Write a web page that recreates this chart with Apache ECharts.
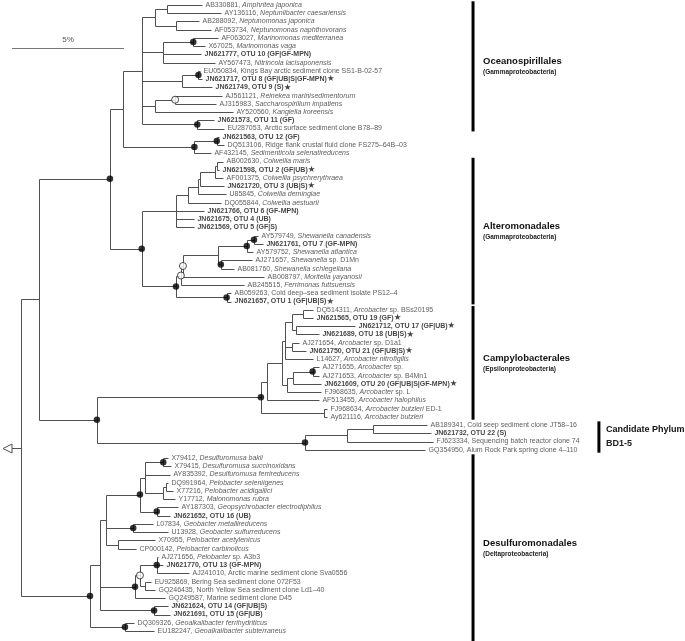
<!DOCTYPE html>
<html><head><meta charset="utf-8">
<script src="https://cdn.jsdelivr.net/npm/echarts/dist/echarts.min.js"></script>
<style>html,body{margin:0;padding:0;background:#fff}#c{width:685px;height:641px}</style>
</head><body><div id="c"></div>
<script>
// ---------------- DATA ----------------
// Leaf labels, top to bottom (*...* = italic)
const leafNames = [
"AB330881, *Amphritea japonica*","AY136116, *Neptuniibacter caesariensis*","AB288092, *Neptunomonas japonica*",
"AF053734, *Neptunomonas naphthovorans*","AF063027, *Marinomonas mediterranea*","X67025, *Marinomonas vaga*",
"JN621777, OTU 10 (GF|GF-MPN)","AY567473, *Nitrincola lacisaponensis*","EU050834, Kings Bay arctic sediment clone SS1-B-02-57",
"JN621717, OTU 8 (GF|UB|S|GF-MPN)","JN621749, OTU 9 (S)","AJ561121, *Reinekea marinisedimentorum*",
"AJ315983, *Saccharospirillum impatiens*","AY520560, *Kangiella koreensis*","JN621573, OTU 11 (GF)",
"EU287053, Arctic surface sediment clone B78\u201389","JN621563, OTU 12 (GF)","DQ513106, Ridge flank crustal fluid clone FS275\u201364B\u201303",
"AF432145, *Sedimenticola selenatireducens*","AB002630, *Colwellia maris*","JN621598, OTU 2 (GF|UB)",
"AF001375, *Colwellia psychrerythraea*","JN621720, OTU 3 (UB|S)","U85845, *Colwellia demingiae*",
"DQ055844, *Colwellia aestuarii*","JN621766, OTU 6 (GF-MPN)","JN621675, OTU 4 (UB)",
"JN621569, OTU 5 (GF|S)","AY579749, *Shewanella canadensis*","JN621761, OTU 7 (GF-MPN)",
"AY579752, *Shewanella atlantica*","AJ271657, *Shewanella* sp. D1Mn","AB081760, *Shewanella schlegeliana*",
"AB008797, *Moritella yayanosii*","AB245515, *Ferrimonas futtsuensis*","AB059263, Cold deep\u2013sea sediment isolate PS12\u20134",
"JN621657, OTU 1 (GF|UB|S)","DQ514311, *Arcobacter* sp. BSs20195","JN621565, OTU 19 (GF)",
"JN621712, OTU 17 (GF|UB)","JN621689, OTU 18 (UB|S)","AJ271654, *Arcobacter* sp. D1a1",
"JN621750, OTU 21 (GF|UB|S)","L14627, *Arcobacter nitrofigilis*","AJ271655, *Arcobacter* sp.",
"AJ271653, *Arcobacter* sp. B4Mn1","JN621609, OTU 20 (GF|UB|S|GF-MPN)","FJ968635, *Arcobacter* sp. L",
"AF513455, *Arcobacter halophilus*","FJ968634, *Arcobacter butzleri* ED-1","Ay621116, *Arcobacter butzleri*",
"AB189341, Cold seep sediment clone JT58\u201316","JN621732, OTU 22 (S)","FJ623334, Sequencing batch reactor clone 74",
"GQ354950, Alum Rock Park spring clone 4\u2013110","X79412, *Desulfuromusa bakii*","X79415, *Desulfuromusa succinoxidans*",
"AY835392, *Desulfuromusa ferrireducens*","DQ991964, *Pelobacter seleniigenes*","X77216, *Pelobacter acidigallici*",
"Y17712, *Malonomonas rubra*","AY187303, *Geopsychrobacter electrodiphilus*","JN621652, OTU 16 (UB)",
"L07834, *Geobacter metallireducens*","U13928, *Geobacter sulfurreducens*","X70955, *Pelobacter acetylenicus*",
"CP000142, *Pelobacter carbinolicus*","AJ271656, *Pelobacter* sp. A3b3","JN621770, OTU 13 (GF-MPN)",
"AJ241010, Arctic marine sediment clone Sva0556","EU925869, Bering Sea sediment clone 072F53","GQ246435, North Yellow Sea sediment clone Ld1\u201340",
"GQ249587, Marine sediment clone D45","JN621624, OTU 14 (GF|UB|S)","JN621691, OTU 15 (GF|UB)",
"DQ309326, *Geoalkalibacter ferrihydriticus*","EU182247, *Geoalkalibacter subterraneus*"
];
// distance of each leaf from the root (% sequence divergence)
const leafDepth = [
8.08,8.93,7.95,8.48,8.79,8.21,8.04,8.66,7.99,8.08,8.53,8.97,8.71,9.46,8.62,9.06,8.84,9.06,8.48,
9.02,8.84,9.02,9.06,9.15,8.93,8.17,7.72,7.72,10.58,10.80,10.36,10.31,9.51,10.85,9.96,9.38,9.38,
13.04,13.04,14.91,13.30,12.41,12.72,13.04,13.30,13.30,13.39,13.39,13.30,13.66,13.66,
18.13,18.30,18.39,18.04,
6.56,6.70,6.65,6.56,6.79,6.88,7.01,6.65,5.89,6.56,5.98,5.13,6.12,6.34,7.50,5.80,5.98,6.43,6.56,6.65,5.04,5.94
];
const starredLeaves = [9,10,20,22,36,38,39,40,42,46];

// internal nodes: id, distance from root (%), children (number = leaf index, string = node id)
const nodeIds = ["R","A","A1","O","N8","N3","N1","N2","N5","N4","N7","N6","N10","N9","Q1","P2","P1",
"ALT","C5","C4","C3","C2","C1","C1a","S7","S6","S5","S3","S2","S1","S4","S8",
"A2","K11","K10","K9","K5","K3","K1","K2","K4","K8","K7","K6","K12","BD","BDb","BDa",
"B","D11","D10","D7","D5","D1","D4","D3","D6","D8","D9","D12","D14","D15","D16","D13","D17"];
const nodeDepth = [0,0.80,3.97,4.55,5.39,5.98,6.50,6.92,6.34,7.69,7.17,7.92,5.98,6.88,7.87,7.74,8.74,
5.39,6.92,7.46,7.90,7.99,8.66,8.75,6.92,7.14,7.23,8.81,10.08,10.40,8.92,9.18,
3.39,10.71,10.97,11.64,11.79,12.08,12.60,12.28,12.08,11.86,12.14,13.02,13.53,12.68,14.54,15.71,
3.08,3.53,3.79,5.31,5.54,6.35,6.35,6.47,6.06,5.01,4.34,5.09,5.31,6.06,5.54,5.94,4.64];
const nodeChildren = [["A","B"],["A1","A2"],["O","ALT"],["N8","P2"],["N3","N5","N7","N10","Q1"],["N1","N2"],[0,1],[2,3],
["N4",6,7],[4,5],["N6",10],[8,9],["N9",13],[11,12],[14,15],["P1",18],[16,17],
["C5","S7"],["C4",25,26,27],["C3",24],["C2",23],["C1",22],["C1a",21],[19,20],["S6","S8"],["S5",34],["S3",33],["S2","S4"],["S1",30],[28,29],[31,32],[35,36],
["K11","BD"],["K10","K12"],["K9",48],["K5","K8"],["K3","K4",43],["K1","K2"],[37,38],[39,40],[41,42],["K7",47],["K6",46],[44,45],[49,50],["BDb",54],["BDa",53],[51,52],
["D11","D17"],["D10","D12","D13"],["D7","D8","D9"],["D5","D6"],["D1",57,"D4"],[55,56],["D3",60],[58,59],[61,62],[63,64],[65,66],["D14",72],["D15","D16"],[67,68,69],[70,71],[73,74],[75,76]];
const filledNodes = ["N4","N6","Q1","P1","P2","ALT","A1","S1","S2","S4","S8","S7","K6","K11","BD","A2","B","D1","D6","D7","D8","D15","D12","D13","D17"];
const openNodes = ["N9","S5","S6","D14"];

const groupNames = ["Oceanospirillales","Alteromonadales","Campylobacterales","Candidate Phylum","Desulfuromonadales"];
const groupSubs = ["(Gammaproteobacteria)","(Gammaproteobacteria)","(Epsilonproteobacteria)","BD1-5","(Deltaproteobacteria)"];
const groupFirst = [0,19,37,51,55];
const groupLast = [15,36,50,54,76];
const scaleBarPercent = 5;

// ---------------- LAYOUT (computed) ----------------
const nodeIndex = {}; nodeIds.forEach((id,i)=>nodeIndex[id]=i);
const depthOf = r => typeof r === 'number' ? leafDepth[r] : nodeDepth[nodeIndex[r]];
const yCache = {};
function yOf(r){
  if (typeof r === 'number') return r;
  if (yCache[r] !== undefined) return yCache[r];
  const ch = nodeChildren[nodeIndex[r]];
  return (yCache[r] = (yOf(ch[0]) + yOf(ch[ch.length-1])) / 2);
}
const segments = [];
nodeIds.forEach((id,i)=>{
  const d = nodeDepth[i], ch = nodeChildren[i];
  segments.push([d, yOf(ch[0]), d, yOf(ch[ch.length-1])]);
  ch.forEach(c => segments.push([d, yOf(c), depthOf(c), yOf(c)]));
});

function richLabel(i){
  const t = leafNames[i];
  let s;
  if (t.startsWith('JN')) s = '{b|' + t + '}';
  else s = t.split('*').map((p,k)=> p ? (k%2 ? '{i|'+p+'}' : '{n|'+p+'}') : '').join('');
  if (starredLeaves.includes(i)) s += '{s|\u2605}';
  return s;
}

// style constants
const PX = 22.4;           // pixels per 1 %
const ROOT_PX = 21;
const barX = [20.18,20.18,20.18,25.80,20.18];
const FONT = 'Liberation Sans';

const chart = echarts.init(document.getElementById('c'), null, {renderer:'canvas'});
chart.setOption({
  animation:false,
  backgroundColor:'#fff',
  grid:{left:0,right:0,top:5,bottom:10},
  xAxis:{type:'value',min:-ROOT_PX/PX,max:(685-ROOT_PX)/PX,show:false},
  yAxis:{type:'value',min:0,max:76,inverse:true,show:false},
  series:[
    { type:'custom', silent:true, clip:false,
      data: segments,
      encode:{x:[0,2],y:[1,3]},
      renderItem(params, api){
        const a = api.coord([api.value(0),api.value(1)]), b = api.coord([api.value(2),api.value(3)]);
        return {type:'line', shape:{x1:Math.round(a[0])+0.5,y1:Math.round(a[1])+0.5,x2:Math.round(b[0])+0.5,y2:Math.round(b[1])+0.5},
          style:{stroke:'#505050',lineWidth:1}};
      }},
    { type:'custom', silent:true, clip:false,
      data:[[0, yOf('R')]],
      renderItem(params, api){
        const p = api.coord([api.value(0),api.value(1)]);
        const y = Math.round(p[1])+0.5;
        return {type:'group', children:[
          {type:'line', shape:{x1:p[0]-9,y1:y,x2:p[0],y2:y}, style:{stroke:'#505050',lineWidth:1}},
          {type:'polygon', shape:{points:[[p[0]-9,y-4.5],[p[0]-9,y+4.5],[p[0]-18,y]]}, style:{fill:'#fff',stroke:'#505050',lineWidth:1}}
        ]};
      }},
    { type:'custom', silent:true, clip:false,
      data:[[-0.4, 5.2, -0.4+scaleBarPercent]],
      renderItem(params, api){
        const a = api.coord([api.value(0),api.value(1)]), b = api.coord([api.value(2),api.value(1)]);
        const y = Math.round(a[1])+0.5;
        return {type:'group', children:[
          {type:'line', shape:{x1:a[0],y1:y,x2:b[0],y2:y}, style:{stroke:'#777',lineWidth:1}},
          {type:'text', style:{x:(a[0]+b[0])/2, y:y-5, text:scaleBarPercent+'%', fill:'#555', font:'8px '+FONT, align:'center', verticalAlign:'bottom'}}
        ]};
      }},
    { type:'scatter', silent:true, symbolSize:6.5,
      itemStyle:{color:'#000'},
      data: filledNodes.map(id=>[depthOf(id), yOf(id)]) },
    { type:'scatter', silent:true, symbolSize:7,
      itemStyle:{color:'#fff',borderColor:'#222',borderWidth:1},
      data: openNodes.map(id=>[depthOf(id), yOf(id)]) },
    { type:'scatter', silent:true, symbolSize:1,
      itemStyle:{color:'rgba(0,0,0,0)'},
      data: leafNames.map((n,i)=>[leafDepth[i], i]),
      label:{show:true, position:'right', distance:3,
        formatter: p => richLabel(p.dataIndex),
        fontFamily:FONT, fontSize:7, color:'#333',
        rich:{
          n:{fontFamily:FONT,fontSize:7,color:'#333'},
          i:{fontFamily:FONT,fontSize:7,color:'#333',fontStyle:'italic'},
          b:{fontFamily:FONT,fontSize:7,color:'#111',fontWeight:'bold'},
          s:{fontFamily:'DejaVu Sans',fontSize:8.5,color:'#111'}
        }}},
    { type:'custom', silent:true, clip:false,
      data: groupNames.map((g,i)=>[barX[i], groupFirst[i]-0.45, groupLast[i]+(i===groupNames.length-1?1.3:0.35), i]),
      renderItem(params, api){
        const i = api.value(3);
        const a = api.coord([api.value(0),api.value(1)]), b = api.coord([api.value(0),api.value(2)]);
        const mid = (a[1]+b[1])/2;
        const cand = i===3;
        return {type:'group', children:[
          {type:'line', shape:{x1:a[0],y1:a[1],x2:b[0],y2:b[1]}, style:{stroke:'#000',lineWidth:3}},
          {type:'text', style:{x:a[0]+(cand?7:10), y:cand?mid-8:mid-5, text:groupNames[i], fill:'#111',
            font:'bold '+(cand?'9px ':'9.5px ')+FONT, verticalAlign:'middle'}},
          {type:'text', style:{x:a[0]+(cand?7:10), y:cand?mid+6:mid+6, text:groupSubs[i], fill:'#222',
            font:'bold '+(cand?'9px ':'6.5px ')+FONT, verticalAlign:'middle'}}
        ]};
      }}
  ]
});
</script></body></html>
